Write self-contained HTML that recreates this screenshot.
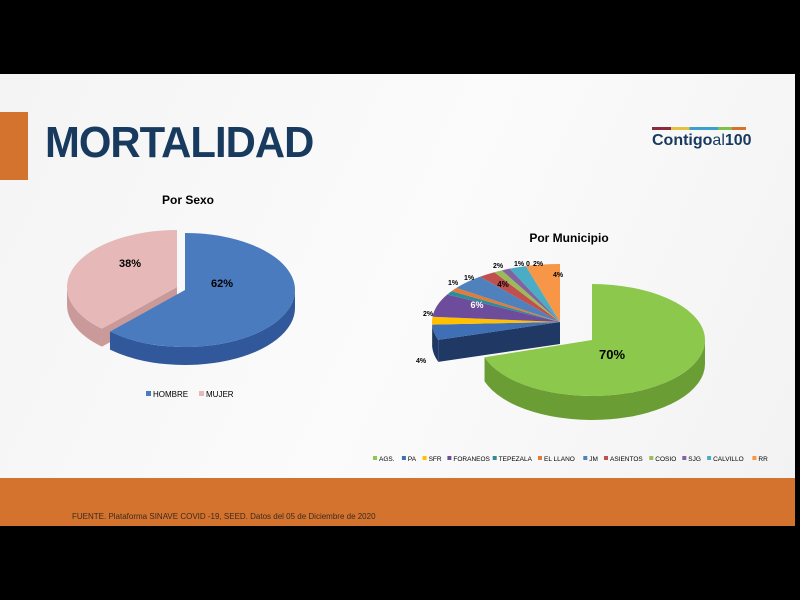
<!DOCTYPE html>
<html><head><meta charset="utf-8"><style>
body{margin:0;background:#000;width:800px;height:600px;overflow:hidden;font-family:"Liberation Sans",sans-serif}
#slide{position:absolute;left:0;top:74px;width:795px;height:452px;background:linear-gradient(115deg,#f4f4f4,#fbfbfb 50%,#f2f2f2)}
</style></head><body>
<div id="slide"></div>
<div style="position:absolute;left:0;top:112px;width:28px;height:68px;background:#d4732e"></div>
<div style="position:absolute;left:45px;top:118px;font-size:44px;font-weight:900;color:#173a5e;letter-spacing:-1px;transform:scaleX(0.95);transform-origin:left">MORTALIDAD</div>
<div style="position:absolute;left:652px;top:127px;width:94px;height:3px;background:linear-gradient(90deg,#8b2c3c 20%,#e8c040 20% 40%,#3aa0d0 40% 70%,#7fbf4a 70% 85%,#d4732e 85%)"></div>
<div style="position:absolute;left:652px;top:132px;font-size:16px;font-weight:bold;color:#173a5e">Contigo<span style="font-weight:normal">al</span>100</div>
<div style="position:absolute;left:0;top:478px;width:795px;height:48px;background:#d4732e"></div>
<div style="position:absolute;left:72px;top:512px;font-size:8px;color:#3a2a20">FUENTE. Plataforma SINAVE COVID -19, SEED. Datos del 05 de Diciembre de 2020</div>
<svg id="s" width="800" height="600" style="position:absolute;left:0;top:0" font-family="Liberation Sans,sans-serif"></svg>
<script>
var s=document.getElementById('s'),h='';
function P(cx,cy,rx,ry,a){a=a*Math.PI/180;return [cx+rx*Math.sin(a),cy-ry*Math.cos(a)];}
function slice(cx,cy,rx,ry,d,a0,a1,top,side,wall){
 var st=Math.max(a0,90),en=Math.min(a1,270);
 if(wall){var p=P(cx,cy,rx,ry,a0);h+=`<path d="M${cx},${cy}L${p}L${p[0]},${p[1]+d}L${cx},${cy+d}Z" fill="${side}"/>`;}
 if(en>st){var p=P(cx,cy,rx,ry,st),q=P(cx,cy,rx,ry,en);
 h+=`<path d="M${p}A${rx},${ry} 0 0 1 ${q}L${q[0]},${q[1]+d}A${rx},${ry} 0 0 0 ${p[0]},${p[1]+d}Z" fill="${side}"/>`;}
 var p=P(cx,cy,rx,ry,a0),q=P(cx,cy,rx,ry,a1);
 h+=`<path d="M${cx},${cy}L${p}A${rx},${ry} 0 ${a1-a0>180?1:0} 1 ${q}Z" fill="${top}"/>`;
}
slice(177,287,110,57,18,223,360,'#e6b9b8','#c99a99',true);
slice(185,290,110,57,18,0,223,'#4a7bbf','#30589a',false);
var sm=[[4,'#3f6fb5','#1f3864'],[2,'#ffc000','#b38600'],[6,'#6e4c9c','#3f2a60'],[1,'#2e8b9a','#1c5a64'],[1,'#e07b39','#9a5020'],[4,'#4f81bd','#2c5080'],[2,'#c0504d','#802a28'],[1,'#9bbb59','#607a30'],[1,'#8064a2','#4a3a66'],[2,'#4bacc6','#2a7080'],[4,'#f79646','#b06020']];
var a=252,k=108/28;
sm.forEach(function(x,i){var b=a+x[0]*k;slice(560,322,128,58,22,a,b,x[1],x[2],i==0);a=b;});
slice(592,340,113,56,24,0,252,'#8cc84b','#6a9e34',true);
s.innerHTML=h+`
<text x="188" y="204" font-size="12" font-weight="bold" text-anchor="middle">Por Sexo</text>
<text x="130" y="267" font-size="11" font-weight="bold" text-anchor="middle">38%</text>
<text x="222" y="287" font-size="11" font-weight="bold" text-anchor="middle">62%</text>
<rect x="146" y="391" width="5" height="5" fill="#4a7bbf"/><text x="153" y="397" font-size="8">HOMBRE</text>
<rect x="199" y="391" width="5" height="5" fill="#e6b9b8"/><text x="206" y="397" font-size="8">MUJER</text>
<text x="569" y="242" font-size="12" font-weight="bold" text-anchor="middle">Por Municipio</text>
<text x="612" y="359" font-size="13" font-weight="bold" text-anchor="middle">70%</text>
<text x="477" y="308" font-size="9" font-weight="bold" fill="#fff" text-anchor="middle">6%</text>
<text x="503" y="287" font-size="8" font-weight="bold" text-anchor="middle">4%</text>
<g font-size="7" font-weight="bold"><text x="423" y="316">2%</text><text x="448" y="285">1%</text><text x="464" y="280">1%</text>
<text x="493" y="268">2%</text><text x="514" y="266">1%</text><text x="526" y="266">0</text><text x="533" y="266">2%</text><text x="553" y="277">4%</text><text x="416" y="363">4%</text></g>
<g font-size="6.5">`+(function(){var n=['AGS.','PA','SFR','FORANEOS','TEPEZALA','EL LLANO','JM','ASIENTOS','COSIO','SJG','CALVILLO','RR'],c=['#8cc84b','#3f6fb5','#ffc000','#6e4c9c','#2e8b9a','#e07b39','#4f81bd','#c0504d','#9bbb59','#8064a2','#4bacc6','#f79646'],x=373,o='';n.forEach(function(t,i){o+=`<rect x="${x}" y="456" width="4" height="4" fill="${c[i]}"/><text x="${x+6}" y="461">${t}</text>`;x+=12.5+t.length*4.1;});return o;})()+`</g>`;
</script>
</body></html>
